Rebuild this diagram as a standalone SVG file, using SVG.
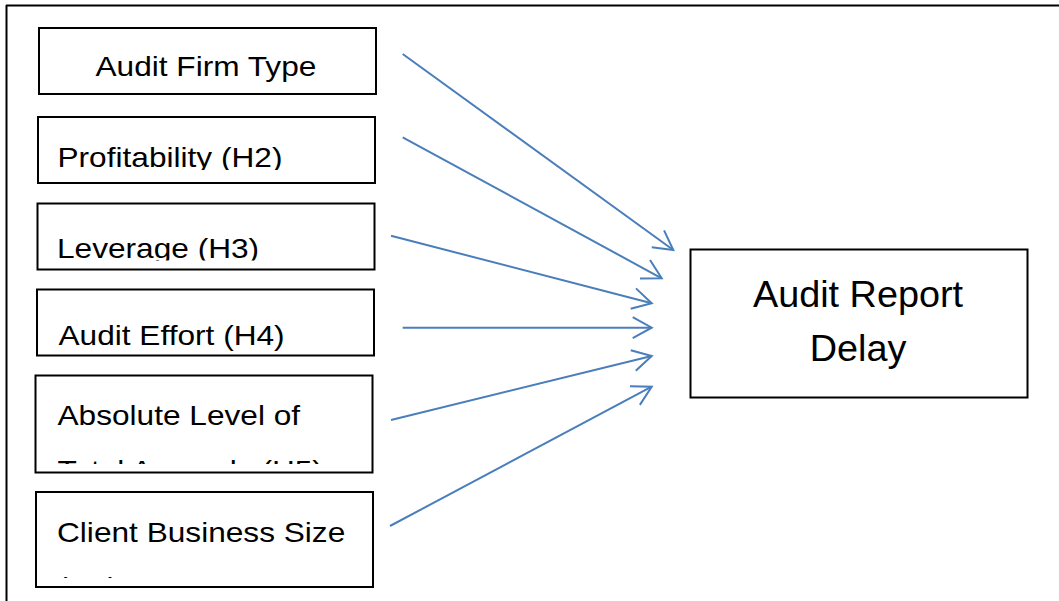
<svg xmlns="http://www.w3.org/2000/svg" width="1059" height="601" viewBox="0 0 1059 601">
<style>
.box{fill:#fff;stroke:#000;stroke-width:2}
.lbl{font-family:"Liberation Sans",Arial,sans-serif;font-size:28px;fill:#000}
.big{font-family:"Liberation Sans",Arial,sans-serif;font-size:36px;fill:#000;text-anchor:middle}
.conn{stroke:#4A7EBB;stroke-width:2;fill:none}
</style>
<defs>
<marker id="arr" markerUnits="userSpaceOnUse" markerWidth="26" markerHeight="26" viewBox="-23 -13 26 26" refX="0" refY="0" orient="auto" overflow="visible">
<path d="M-19,-10.5 L0,0 L-19,10.5" fill="none" stroke="#4A7EBB" stroke-width="2"/>
</marker>
<clipPath id="c2"><rect x="38" y="117" width="337" height="53"/></clipPath>
<clipPath id="c3"><rect x="37" y="203" width="338" height="57.5"/></clipPath>
<clipPath id="c5"><rect x="35" y="375" width="338" height="89"/></clipPath>
<clipPath id="c6"><rect x="36" y="492" width="337" height="86"/></clipPath>
</defs>
<g id="frame">
<line x1="6" y1="5.5" x2="1059" y2="5.5" stroke="#000" stroke-width="2"/>
<line x1="6.5" y1="5" x2="6.5" y2="601" stroke="#000" stroke-width="2"/>
</g>
<g id="n1">
<rect class="box" x="39" y="28" width="337" height="66"/>
<text class="lbl" transform="translate(95.5,76) scale(1.13,1)">Audit Firm Type</text>
</g>
<g id="n2">
<rect class="box" x="38" y="117" width="337" height="66"/>
<g clip-path="url(#c2)"><text class="lbl" transform="translate(57.5,166.5) scale(1.13,1)">Profitability (H2)</text></g>
</g>
<g id="n3">
<rect class="box" x="37.5" y="203.5" width="337" height="66"/>
<g clip-path="url(#c3)"><text class="lbl" transform="translate(57,258.3) scale(1.13,1)">Leverage (H3)</text></g>
</g>
<g id="n4">
<rect class="box" x="37" y="289.5" width="337" height="66"/>
<text class="lbl" transform="translate(58.5,345) scale(1.13,1)">Audit Effort (H4)</text>
</g>
<g id="n5">
<rect class="box" x="35.5" y="375.5" width="337" height="97"/>
<g clip-path="url(#c5)"><text class="lbl" transform="translate(57.5,425) scale(1.13,1)">Absolute Level of</text>
<text class="lbl" transform="translate(57.5,479.5) scale(1.13,1)">Total Accruals (H5)</text></g>
</g>
<g id="n6">
<rect class="box" x="36" y="492" width="337" height="95"/>
<g clip-path="url(#c6)"><text class="lbl" transform="translate(57,541.7) scale(1.13,1)">Client Business Size</text>
<text class="lbl" transform="translate(57,596.5) scale(1.13,1)">(H6)</text></g>
</g>
<g id="target">
<rect class="box" x="690.5" y="249.5" width="337" height="148"/>
<text class="big" transform="translate(858,306.5) scale(1.05,1)">Audit Report</text>
<text class="big" transform="translate(858,361) scale(1.05,1)">Delay</text>
</g>
<g id="connectors">
<line class="conn" x1="402.7" y1="54" x2="673.3" y2="250" marker-end="url(#arr)"/>
<line class="conn" x1="402.7" y1="137.3" x2="661.7" y2="278.3" marker-end="url(#arr)"/>
<line class="conn" x1="391" y1="235.7" x2="651.7" y2="303.3" marker-end="url(#arr)"/>
<line class="conn" x1="402.7" y1="327.7" x2="651.7" y2="327.7" marker-end="url(#arr)"/>
<line class="conn" x1="391" y1="420" x2="651.7" y2="356" marker-end="url(#arr)"/>
<line class="conn" x1="390" y1="526" x2="651.7" y2="386.7" marker-end="url(#arr)"/>
</g>
</svg>
